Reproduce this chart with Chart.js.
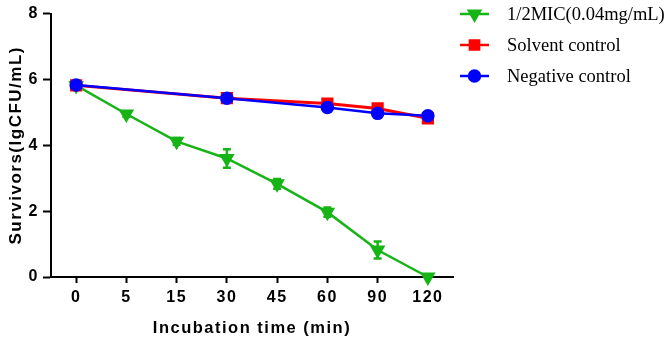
<!DOCTYPE html>
<html><head><meta charset="utf-8">
<script src="https://cdn.jsdelivr.net/npm/chart.js@4/dist/chart.umd.min.js"></script>
<style>html,body{margin:0;padding:0;background:#fff}#wrap{width:666px;height:346px;position:relative}</style>
</head><body><div id="wrap"><canvas id="c"></canvas></div>
<script>
const categories = ['0','5','15','30','45','60','90','120'];
const micValues = [5.82,4.95,4.12,3.6,2.83,1.97,0.82,0];
const micErrors = [0.05,0.08,0.1,0.28,0.15,0.14,0.26,0];
const solventValues = [5.82,null,null,5.43,null,5.27,5.12,4.82];
const solventErrors = [0.05,0,0,0.06,0,0.1,0.12,0.06];
const negativeValues = [5.83,null,null,5.43,null,5.15,4.97,4.9];
const negativeErrors = [0.04,0,0,0.07,0,0.12,0.12,0.06];
const yTicks = [0,2,4,6,8];
const seriesNames = ['1/2MIC(0.04mg/mL)','Solvent control','Negative control'];

const GREEN = '#16b416', RED = '#ff0000', BLUE = '#0000ff';
const SANS = "'Liberation Sans', Arial, sans-serif";

const spacingPlugin = {
  id: 'letterSpacing',
  beforeDraw(chart) { chart.ctx.letterSpacing = '1.5px'; }
};

const errorBarPlugin = {
  id: 'errorBars',
  afterDatasetDraw(chart, args) {
    const ds = chart.data.datasets[args.index];
    if (!ds.errors) return;
    const ctx = chart.ctx, y = chart.scales.y, meta = args.meta;
    ctx.save();
    ctx.strokeStyle = ds.borderColor;
    ctx.lineWidth = 2.5;
    meta.data.forEach((pt, i) => {
      const v = ds.data[i], e = ds.errors[i];
      if (v === null || !e) return;
      const x = pt.x, y1 = y.getPixelForValue(v + e), y2 = y.getPixelForValue(v - e);
      ctx.beginPath();
      ctx.moveTo(x, y1); ctx.lineTo(x, y2);
      ctx.moveTo(x - 4, y1); ctx.lineTo(x + 4, y1);
      ctx.moveTo(x - 4, y2); ctx.lineTo(x + 4, y2);
      ctx.stroke();
    });
    ctx.restore();
  }
};

const legendPlugin = {
  id: 'sideLegend',
  afterDraw(chart) {
    const ctx = chart.ctx;
    const order = [0, 1, 2];
    const rows = [14, 45, 76];
    ctx.save();
    ctx.letterSpacing = '0px';
    order.forEach((di, k) => {
      const ds = chart.data.datasets[di];
      const yy = rows[k];
      ctx.strokeStyle = ds.borderColor;
      ctx.lineWidth = 2.5;
      ctx.beginPath(); ctx.moveTo(460, yy); ctx.lineTo(489, yy); ctx.stroke();
      ctx.fillStyle = ds.borderColor;
      Chart.helpers.drawPoint(ctx, {pointStyle: ds.pointStyle, rotation: ds.pointRotation || 0, radius: ds.pointRadius, borderWidth: 1}, 474.5, yy);
      ctx.fillStyle = '#000';
      ctx.font = "18.5px 'Liberation Serif', 'Times New Roman', serif";
      ctx.textBaseline = 'middle';
      ctx.textAlign = 'left';
      ctx.fillText(ds.label, 507, yy + 1);
    });
    ctx.restore();
  }
};

new Chart(document.getElementById('c'), {
  type: 'line',
  data: {
    labels: categories,
    datasets: [
      {label: seriesNames[0], data: micValues, errors: micErrors, borderColor: GREEN, backgroundColor: GREEN,
       pointStyle: 'triangle', pointRotation: 180, pointRadius: 6.5, borderWidth: 2.5, order: 3, clip: false, spanGaps: true},
      {label: seriesNames[1], data: solventValues, errors: solventErrors, borderColor: RED, backgroundColor: RED,
       pointStyle: 'rect', pointRadius: 6.5, borderWidth: 3, order: 2, clip: false, spanGaps: true},
      {label: seriesNames[2], data: negativeValues, errors: negativeErrors, borderColor: BLUE, backgroundColor: BLUE,
       pointStyle: 'circle', pointRadius: 5.5, borderWidth: 2.5, order: 1, clip: false, spanGaps: true}
    ]
  },
  options: {
    responsive: true,
    maintainAspectRatio: false,
    animation: false,
    layout: {padding: {top: 10, right: 213, left: 0, bottom: 0}},
    plugins: {legend: {display: false}, tooltip: {enabled: false}},
    elements: {line: {tension: 0}, point: {borderWidth: 1, hoverRadius: 6}},
    scales: {
      x: {
        type: 'category',
        offset: true,
        grid: {display: true, drawOnChartArea: false, drawTicks: true, tickLength: 6, tickColor: '#000', tickWidth: 2, offset: false},
        border: {display: true, color: '#000', width: 2},
        ticks: {color: '#000', font: {family: SANS, size: 16, weight: 'bold'}, padding: 5, maxRotation: 0, autoSkip: false},
        title: {display: true, text: 'Incubation time (min)', color: '#000', font: {family: SANS, size: 16.5, weight: 'bold'}, padding: {top: 0, bottom: 8}},
        afterFit(s) { s.height = 69; }
      },
      y: {
        min: 0, max: 8,
        afterBuildTicks(s) { s.ticks = yTicks.map(v => ({value: v})); },
        grid: {display: true, drawOnChartArea: false, drawTicks: true, tickLength: 8, tickColor: '#000', tickWidth: 2},
        border: {display: true, color: '#000', width: 2},
        ticks: {color: '#000', font: {family: SANS, size: 16, weight: 'bold'}, padding: 4},
        title: {display: true, text: 'Survivors(lgCFU/mL)', color: '#000', font: {family: SANS, size: 17, weight: 'bold'}, padding: {top: 6, bottom: 0}},
        afterFit(s) { s.width = 51; }
      }
    }
  },
  plugins: [spacingPlugin, errorBarPlugin, legendPlugin]
});
</script>
</body></html>
